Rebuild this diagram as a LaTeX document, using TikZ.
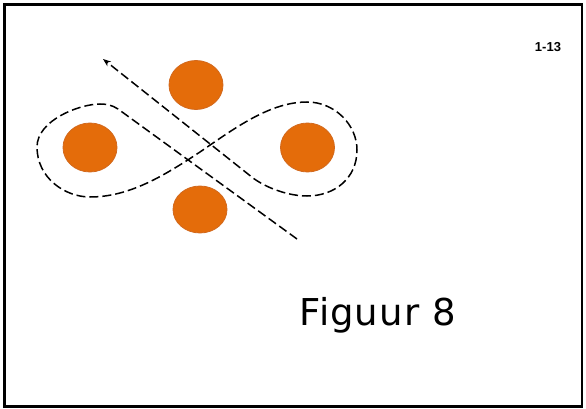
\documentclass[tikz,border=0pt]{standalone}
\usepackage{fontspec}
\usetikzlibrary{shapes.geometric,arrows.meta}
\newfontfamily\labelfont{Liberation Sans}
\newfontfamily\titlefont[LetterSpace=3]{DejaVu Sans}
\definecolor{discorange}{HTML}{E46C0A}
\definecolor{discedge}{HTML}{D2691E}
\begin{document}
\begin{tikzpicture}[x=1pt,y=-1pt,
  orangedisk/.style={ellipse,fill=discorange,draw=discedge,line width=0.8pt,
    minimum width=54pt,minimum height=49pt,inner sep=0pt},
  pathline/.style={line width=1.5pt,dash pattern=on 9pt off 4pt,line cap=butt},
  framebox/.style={line width=2.5pt}]
\useasboundingbox (0,0) rectangle (586,409);
\draw[framebox] (4.5,4.5) rectangle (582,406.5);
% discs
\node[orangedisk] (topdisc) at (196,85) {};
\node[orangedisk] (leftdisc) at (90,147.5) {};
\node[orangedisk] (rightdisc) at (307.5,147.5) {};
\node[orangedisk,minimum height=47pt] (bottomdisc) at (200,209.5) {};
% path coordinates
\coordinate (tail) at (297,239);
\coordinate (lstart) at (118,109);
\coordinate (ltop) at (100,104);
\coordinate (lleft) at (37,147);
\coordinate (lbottom) at (90,197);
\coordinate (mid) at (200,152);
\coordinate (rtop) at (307,102);
\coordinate (rright) at (357,150);
\coordinate (rbottom) at (307,196);
\coordinate (rend) at (253,178);
\coordinate (tip) at (103,59);
\draw[pathline,-{Stealth[length=8pt,width=6pt]}]
  (tail) -- (lstart)
  .. controls (112,105) and (106,104) .. (ltop)
  .. controls (80,104) and (37,120) .. (lleft)
  .. controls (37,178) and (65,197) .. (lbottom)
  .. controls (130,197) and (165,175) .. (mid)
  .. controls (235,128) and (270,102) .. (rtop)
  .. controls (335,102) and (357,125) .. (rright)
  .. controls (357,178) and (335,196) .. (rbottom)
  .. controls (290,196) and (268,189) .. (rend)
  -- (tip);
% texts
\node[font=\labelfont\bfseries\fontsize{13}{15}\selectfont] (pagenum) at (548,47) {1-13};
\node[font=\titlefont\fontsize{37}{44}\selectfont,anchor=base] (title) at (377.5,325) {Figuur 8};
\end{tikzpicture}
\end{document}
